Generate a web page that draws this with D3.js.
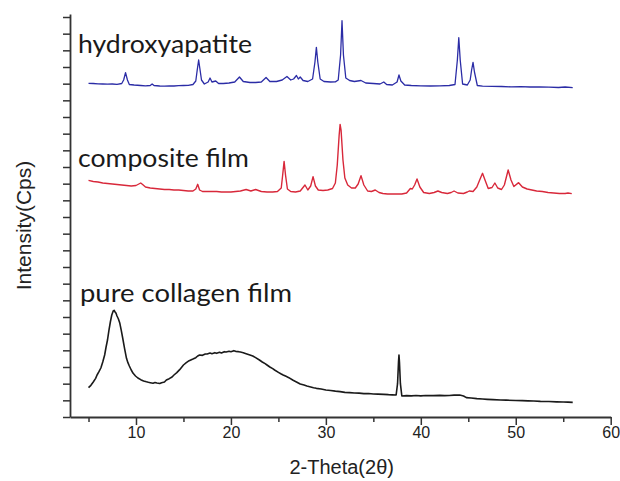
<!DOCTYPE html>
<html>
<head>
<meta charset="utf-8">
<script src="https://cdn.jsdelivr.net/npm/d3@7"></script>
<style>
  html, body { margin: 0; padding: 0; background: #fff; }
  svg { display: block; }
</style>
</head>
<body>
<svg id="chart" width="620" height="481"></svg>
<script>
// ---- data (2-Theta in degrees, intensity in Cps, offset-stacked) ----
const xTickMajor = [10, 20, 30, 40, 50, 60];
const xTickMinor = [5, 15, 25, 35, 45, 55];
const seriesNames = ["hydroxyapatite", "composite film", "pure collagen film"];

const hydroxyapatite = [
  [5.0,2002],[5.5,2001],[6.0,1999],[6.5,1998],[7.0,1997],[7.5,1998],[8.0,1996],[8.5,2001],
  [8.7,2022],[8.9,2066],[9.1,2022],[9.3,1995],[9.8,1992],[10.5,1989],[11.0,1987],[11.5,1989],
  [11.7,1998],[11.9,1989],[12.5,1986],[13.0,1985],[13.5,1987],[14.0,1986],[14.5,1988],[15.0,1989],
  [15.5,1990],[16.0,1995],[16.3,2016],[16.45,2082],[16.6,2142],[16.75,2082],[16.9,2022],[17.2,1998],
  [17.6,2010],[17.8,2034],[18.0,2010],[18.4,2016],[18.7,2001],[19.2,2001],[19.8,2004],[20.4,2010],
  [20.9,2040],[21.3,2013],[22.0,2007],[22.6,2007],[23.2,2010],[23.7,2037],[24.1,2013],[24.8,2013],
  [25.4,2022],[25.9,2043],[26.3,2022],[26.6,2028],[26.9,2049],[27.1,2028],[27.3,2040],[27.6,2019],
  [28.1,2013],[28.6,2028],[28.85,2130],[29.0,2218],[29.15,2130],[29.4,2028],[29.8,2013],[30.5,2010],
  [31.0,2011],[31.3,2022],[31.55,2172],[31.7,2378],[31.85,2172],[32.1,2034],[32.5,2019],[33.0,2013],
  [33.7,2019],[34.2,2004],[35.0,2001],[35.7,1998],[36.1,2010],[36.4,1995],[37.0,1992],[37.5,2010],
  [37.7,2052],[37.9,2016],[38.3,1992],[39.0,1989],[40.0,1987],[41.0,1986],[42.0,1987],[43.0,1989],
  [43.6,1995],[43.85,2142],[44.0,2276],[44.15,2142],[44.4,1998],[44.9,1992],[45.2,2022],[45.35,2082],
  [45.5,2128],[45.65,2070],[45.95,1989],[46.5,1985],[47.5,1984],[48.5,1983],[49.5,1981],[50.5,1982],
  [51.5,1980],[52.5,1980],[53.5,1979],[54.5,1977],[55.2,1980],[56.0,1976]
];

const compositeFilm = [
  [5.0,1420],[5.5,1413],[6.0,1410],[6.5,1404],[7.0,1401],[7.5,1398],[8.0,1395],[8.5,1392],
  [9.0,1389],[9.5,1386],[10.0,1389],[10.3,1398],[10.5,1404],[10.7,1395],[11.0,1380],[11.5,1374],
  [12.0,1371],[12.5,1368],[13.0,1365],[13.5,1365],[14.0,1362],[14.5,1362],[15.0,1359],[15.5,1356],
  [16.0,1356],[16.3,1368],[16.5,1396],[16.7,1362],[17.0,1353],[17.5,1353],[18.0,1353],[18.5,1353],
  [19.0,1350],[19.5,1350],[20.0,1350],[20.5,1353],[21.0,1356],[21.6,1365],[22.1,1356],[22.6,1365],
  [23.2,1353],[23.8,1350],[24.4,1350],[24.9,1353],[25.3,1374],[25.45,1452],[25.6,1534],[25.75,1452],
  [25.95,1368],[26.3,1353],[26.8,1350],[27.3,1356],[27.8,1392],[28.1,1362],[28.4,1386],[28.65,1442],
  [28.9,1386],[29.2,1362],[29.7,1359],[30.2,1362],[30.7,1371],[31.0,1404],[31.2,1512],[31.4,1692],
  [31.5,1756],[31.6,1722],[31.8,1542],[32.0,1434],[32.3,1392],[32.7,1374],[33.1,1374],[33.4,1398],
  [33.7,1448],[34.0,1392],[34.4,1356],[34.8,1353],[35.2,1362],[35.6,1347],[36.0,1341],[36.5,1338],
  [37.0,1338],[37.5,1338],[38.0,1338],[38.5,1344],[38.9,1371],[39.1,1368],[39.35,1392],[39.6,1428],
  [39.9,1380],[40.3,1347],[40.9,1341],[41.4,1347],[41.8,1356],[42.2,1347],[42.8,1341],[43.2,1347],
  [43.5,1356],[43.9,1344],[44.5,1341],[44.9,1350],[45.1,1356],[45.5,1353],[45.9,1380],[46.2,1422],
  [46.5,1462],[46.8,1416],[47.1,1371],[47.5,1377],[47.8,1404],[48.1,1374],[48.5,1365],[48.8,1392],
  [49.2,1482],[49.5,1422],[49.8,1383],[50.3,1406],[50.7,1380],[51.2,1368],[51.7,1362],[52.2,1356],
  [52.8,1353],[53.4,1347],[54.0,1344],[54.6,1341],[55.2,1341],[55.5,1344],[55.9,1340]
];

const pureCollagen = [
  [5.0,176],[5.25,190],[5.5,210],[5.75,232],[5.9,252],[6.1,272],[6.3,294],[6.5,330],[6.7,372],
  [6.85,420],[7.0,462],[7.15,520],[7.3,570],[7.45,612],[7.6,636],[7.7,640],[7.8,630],[7.9,622],
  [8.0,606],[8.15,588],[8.3,562],[8.45,520],[8.6,474],[8.8,410],[9.0,352],[9.15,326],[9.3,306],
  [9.5,282],[9.7,262],[9.95,246],[10.2,234],[10.5,224],[10.8,216],[11.1,211],[11.3,208],[11.5,206],
  [11.8,203],[12.0,207],[12.2,204],[12.5,201],[12.7,206],[13.0,210],[13.2,222],[13.5,230],[13.8,240],
  [14.0,252],[14.3,266],[14.6,284],[15.0,312],[15.3,326],[15.6,338],[16.0,348],[16.3,356],[16.5,366],
  [16.7,372],[17.0,370],[17.3,378],[17.5,378],[17.8,384],[18.0,380],[18.3,386],[18.5,382],[18.8,388],
  [19.0,384],[19.3,392],[19.5,390],[19.8,394],[20.0,392],[20.3,398],[20.5,394],[20.8,392],[21.0,390],
  [21.3,386],[21.6,380],[22.0,372],[22.3,366],[22.6,356],[23.0,342],[23.3,330],[23.6,320],[23.8,312],
  [24.1,300],[24.4,290],[24.6,282],[25.0,268],[25.3,258],[25.5,252],[25.8,244],[26.1,236],[26.5,222],
  [26.9,210],[27.3,198],[27.7,192],[28.0,186],[28.3,182],[28.7,176],[29.0,172],[29.5,168],[30.0,162],
  [30.5,159],[31.0,155],[31.5,152],[32.0,148],[32.5,146],[33.0,144],[33.5,143],[34.0,140],[34.5,141],
  [35.0,138],[35.5,137],[36.1,136],[36.6,134],[37.0,133],[37.4,132],[37.55,200],[37.65,330],[37.7,372],
  [37.75,330],[37.85,200],[38.0,126],[38.5,128],[39.0,127],[39.5,129],[40.0,127],[40.5,129],[41.3,128],
  [42.0,130],[42.5,128],[43.0,129],[43.5,131],[44.1,132],[44.5,126],[44.8,116],[45.3,114],[45.9,110],
  [46.5,108],[47.0,106],[47.6,104],[48.4,102],[49.0,101],[50.0,99],[50.7,98],[51.3,97],[51.9,96],
  [52.6,94],[53.5,93],[54.3,91],[55.0,90],[55.5,89],[56.0,88]
];

const yTickValues = d3.range(0, 2401, 100);

// ---- drawing ----
const svg = d3.select("#chart");

const x = d3.scaleLinear().domain([3.05, 60]).range([70, 610.7]);
const y = d3.scaleLinear().domain([0, 2418]).range([417, 14]);

const line = d3.line().x(d => x(d[0])).y(d => y(d[1]));

const series = [
  { name: seriesNames[0], data: hydroxyapatite, color: "#2b2ca6", w: 1.3 },
  { name: seriesNames[1], data: compositeFilm, color: "#d8283a", w: 1.4 },
  { name: seriesNames[2], data: pureCollagen, color: "#1a1a1a", w: 1.6 }
];

svg.selectAll("path.curve")
  .data(series)
  .join("path")
  .attr("class", "curve")
  .attr("d", d => line(d.data))
  .attr("fill", "none")
  .attr("stroke", d => d.color)
  .attr("stroke-width", d => d.w)
  .attr("stroke-linejoin", "round");

// x axis
const xAxis = d3.axisBottom(x).tickValues(xTickMajor).tickSize(8).tickSizeOuter(0).tickPadding(2);
const gx = svg.append("g").attr("transform", "translate(0,417)").call(xAxis);
gx.select(".domain").attr("stroke", "#333").attr("stroke-width", 1.8);
gx.selectAll(".tick line").attr("stroke", "#333").attr("stroke-width", 1.5);
gx.selectAll(".tick text")
  .attr("font-family", "'Liberation Sans', Arial, sans-serif")
  .attr("font-size", 16).attr("fill", "#222");
const xMinor = d3.axisBottom(x).tickValues(xTickMinor).tickSize(5).tickSizeOuter(0).tickFormat("");
const gxm = svg.append("g").attr("transform", "translate(0,417)").call(xMinor);
gxm.select(".domain").remove();
gxm.selectAll(".tick line").attr("stroke", "#333").attr("stroke-width", 1.5);

// y axis
const yAxis = d3.axisLeft(y).tickValues(yTickValues).tickSize(7).tickSizeOuter(0).tickFormat("");
const gy = svg.append("g").attr("transform", "translate(70,0)").call(yAxis);
gy.select(".domain").attr("stroke", "#333").attr("stroke-width", 1.8);
gy.selectAll(".tick line").attr("stroke", "#333").attr("stroke-width", 1.5);

// axis titles
svg.append("text")
  .attr("x", 341.7).attr("y", 474)
  .attr("text-anchor", "middle")
  .attr("font-family", "'Liberation Sans', Arial, sans-serif")
  .attr("font-size", 20).attr("fill", "#222")
  .text("2-Theta(2θ)");

svg.append("text")
  .attr("transform", "translate(31,225.5) rotate(-90)")
  .attr("text-anchor", "middle")
  .attr("font-family", "'Liberation Sans', Arial, sans-serif")
  .attr("font-size", 21).attr("fill", "#222")
  .text("Intensity(Cps)");

// series labels
const labelPos = [
  { x: 78, y: 53, w: 174 },
  { x: 78, y: 167, w: 171 },
  { x: 80, y: 302, w: 212 }
];
svg.selectAll("text.lbl")
  .data(seriesNames)
  .join("text")
  .attr("class", "lbl")
  .attr("x", (d, i) => labelPos[i].x)
  .attr("y", (d, i) => labelPos[i].y)
  .attr("font-family", "Lato, 'Open Sans', sans-serif")
  .attr("font-size", 25)
  .attr("fill", "#1a1a1a")
  .attr("textLength", (d, i) => labelPos[i].w)
  .attr("lengthAdjust", "spacingAndGlyphs")
  .text(d => d);
</script>
</body>
</html>
